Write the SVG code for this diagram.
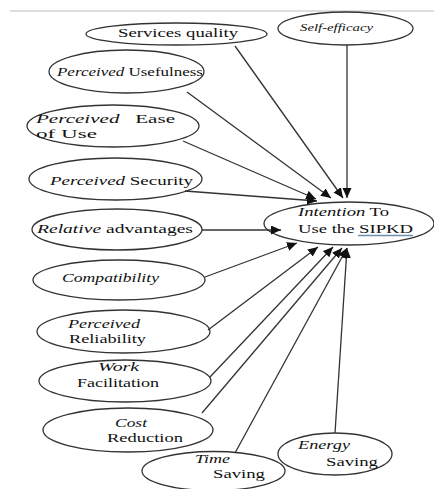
<svg xmlns="http://www.w3.org/2000/svg" width="434" height="489" viewBox="0 0 434 489">
<defs>
<marker id="ah" markerUnits="userSpaceOnUse" markerWidth="12" markerHeight="10" refX="10" refY="4.5" orient="auto">
<path d="M0,0 L10,4.5 L0,9 Z" fill="#111"/>
</marker>
<style>
.n ellipse{fill:#fff;stroke:#333;stroke-width:1.3}
.i{font-style:italic}
.c line{stroke:#333;stroke-width:1.3;marker-end:url(#ah)}
</style>
</defs>
<rect width="434" height="489" fill="#fff"/>
<line x1="10" y1="11" x2="434" y2="11" stroke="#ddd" stroke-width="2"/>
<g font-family="Liberation Serif, Times New Roman, serif" font-size="13.5" fill="#111">
<g class="n" id="services">
<ellipse cx="176.5" cy="34" rx="90.5" ry="11"/>
<text x="118" y="37" textLength="120" lengthAdjust="spacingAndGlyphs">Services quality</text>
</g>
<g class="n" id="selfefficacy">
<ellipse cx="345.5" cy="28.5" rx="67.5" ry="16.5"/>
<text class="i" x="300" y="31" font-size="10" textLength="73" lengthAdjust="spacingAndGlyphs">Self-efficacy</text>
</g>
<g class="n" id="usefulness">
<ellipse cx="126.5" cy="71.5" rx="77.5" ry="21.5"/>
<text x="57" y="76" textLength="146" lengthAdjust="spacingAndGlyphs"><tspan class="i">Perceived</tspan> Usefulness</text>
</g>
<g class="n" id="ease">
<ellipse cx="113" cy="126" rx="86" ry="21"/>
<text x="36" y="123" textLength="139" lengthAdjust="spacingAndGlyphs" xml:space="preserve"><tspan class="i">Perceived</tspan>   Ease</text>
<text x="36" y="138" textLength="61" lengthAdjust="spacingAndGlyphs">of Use</text>
</g>
<g class="n" id="security">
<ellipse cx="115.5" cy="179" rx="86.5" ry="21"/>
<text x="50" y="185" textLength="143" lengthAdjust="spacingAndGlyphs"><tspan class="i">Perceived</tspan> Security</text>
</g>
<g class="n" id="relative">
<ellipse cx="117" cy="229.5" rx="85" ry="20.5"/>
<text x="37" y="233" textLength="156" lengthAdjust="spacingAndGlyphs"><tspan class="i">Relative</tspan> advantages</text>
</g>
<g class="n" id="compatibility">
<ellipse cx="119" cy="280" rx="86" ry="20"/>
<text class="i" x="62" y="282" textLength="97" lengthAdjust="spacingAndGlyphs">Compatibility</text>
</g>
<g class="n" id="intention">
<ellipse cx="349" cy="223.5" rx="85" ry="21.5"/>
<text x="298" y="216" textLength="91" lengthAdjust="spacingAndGlyphs"><tspan class="i">Intention</tspan> To</text>
<text x="298" y="233" textLength="115" lengthAdjust="spacingAndGlyphs">Use the SIPKD</text>
<line x1="358" y1="235.5" x2="413" y2="235.5" stroke="#6f8fae" stroke-width="1.3"/>
</g>
<g class="n" id="reliability">
<ellipse cx="123.5" cy="331.5" rx="86.5" ry="21.5"/>
<text class="i" x="68" y="328" textLength="72" lengthAdjust="spacingAndGlyphs">Perceived</text>
<text x="69" y="343" textLength="77" lengthAdjust="spacingAndGlyphs">Reliability</text>
</g>
<g class="n" id="work">
<ellipse cx="125" cy="381" rx="86" ry="21"/>
<text class="i" x="98" y="371" textLength="41" lengthAdjust="spacingAndGlyphs">Work</text>
<text x="77" y="387" textLength="82" lengthAdjust="spacingAndGlyphs">Facilitation</text>
</g>
<g class="n" id="cost">
<ellipse cx="128" cy="430" rx="85" ry="22"/>
<text class="i" x="115" y="427" textLength="32" lengthAdjust="spacingAndGlyphs">Cost</text>
<text x="107" y="442" textLength="76" lengthAdjust="spacingAndGlyphs">Reduction</text>
</g>
<g class="n" id="time">
<ellipse cx="213.5" cy="471" rx="71.5" ry="19.5"/>
<text class="i" x="195" y="463" textLength="35" lengthAdjust="spacingAndGlyphs">Time</text>
<text x="213" y="478" textLength="52" lengthAdjust="spacingAndGlyphs">Saving</text>
</g>
<g class="n" id="energy">
<ellipse cx="335" cy="454" rx="57" ry="21"/>
<text class="i" x="298" y="449" textLength="52" lengthAdjust="spacingAndGlyphs">Energy</text>
<text x="326" y="466" textLength="52" lengthAdjust="spacingAndGlyphs">Saving</text>
</g>
</g>
<g class="c" id="connectors">
<line x1="235" y1="46" x2="343" y2="198"/>
<line x1="347" y1="45" x2="347" y2="198"/>
<line x1="187" y1="92" x2="331" y2="198"/>
<line x1="183" y1="141" x2="316" y2="199"/>
<line x1="185" y1="191" x2="317" y2="201"/>
<line x1="202" y1="230" x2="281" y2="230"/>
<line x1="205" y1="277" x2="297" y2="243"/>
<line x1="208" y1="330" x2="318" y2="247"/>
<line x1="210" y1="377" x2="333" y2="247"/>
<line x1="202" y1="413" x2="342" y2="248"/>
<line x1="235" y1="453" x2="347" y2="248"/>
<line x1="335" y1="433" x2="347" y2="248"/>
</g>
</svg>
